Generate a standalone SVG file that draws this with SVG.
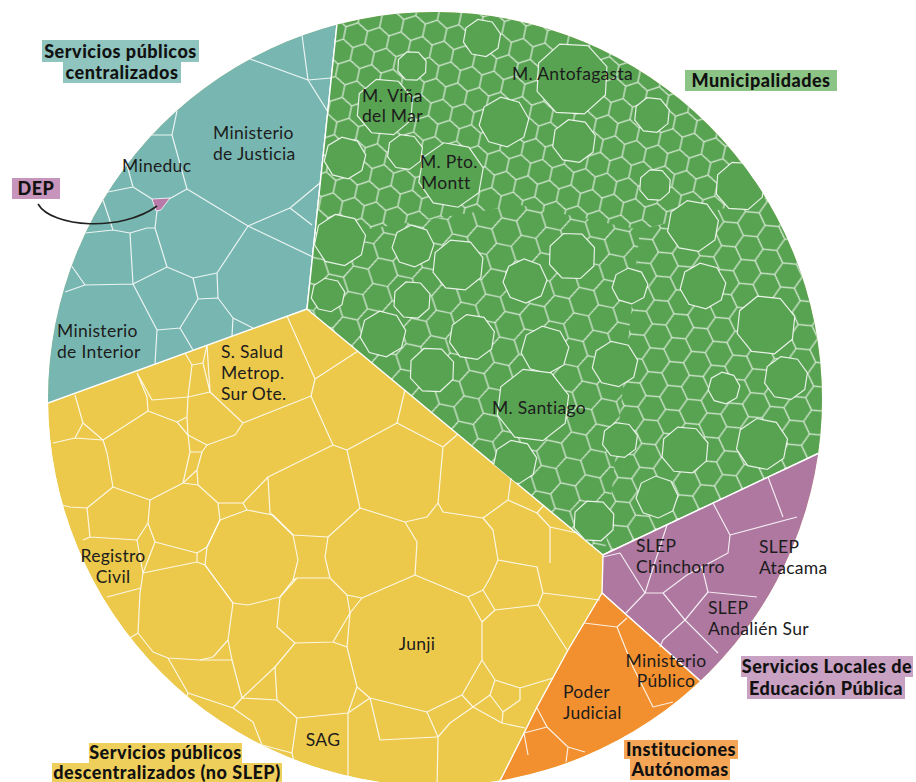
<svg xmlns="http://www.w3.org/2000/svg" xmlns:xlink="http://www.w3.org/1999/xlink" width="916" height="782" viewBox="0 0 916 782">
<style>
.cl{fill:none;stroke:#fff;stroke-width:1.2;stroke-opacity:0.85;stroke-linejoin:round}
.sec{stroke:#fff;stroke-width:1.4;stroke-linejoin:round}
.oct{fill:#58a352;stroke:#fff;stroke-width:1.2;stroke-opacity:0.85;vector-effect:non-scaling-stroke}
.hx{fill:none;stroke:#fff;stroke-opacity:0.8;stroke-width:1.2}
.t{font-family:Lato,"Open Sans","Liberation Sans",sans-serif;font-size:17.5px;letter-spacing:0.3px;fill:#1c1c1c}
.tm{text-anchor:middle}
.b{font-family:Lato,"Open Sans","Liberation Sans",sans-serif;font-size:18px;font-weight:900;letter-spacing:0.5px;fill:#111;text-anchor:middle}
</style>
<defs>
<clipPath id="circ"><circle cx="435" cy="399" r="387"/></clipPath>
<clipPath id="gclip"><polygon points="342,-20 337,24 307,309 603,555 815,455 950,392 950,-20"/></clipPath>
<pattern id="hexA" patternUnits="userSpaceOnUse" x="3" y="5" width="22" height="38.11" patternTransform="rotate(12)">
<path class="hx" d="M11,0 L22,6.35 L22,19.05 L11,25.4 L0,19.05 L0,6.35 Z M11,25.4 L11,38.11"/>
</pattern>
<pattern id="hexB" patternUnits="userSpaceOnUse" x="7" y="2" width="26" height="45.03" patternTransform="rotate(-18)">
<path class="hx" d="M13,0 L26,7.51 L26,22.52 L13,30.02 L0,22.52 L0,7.51 Z M13,30.02 L13,45.03"/>
</pattern>
<pattern id="hexC" patternUnits="userSpaceOnUse" x="0" y="9" width="24" height="41.57" patternTransform="rotate(35)">
<path class="hx" d="M12,0 L24,6.93 L24,20.78 L12,27.71 L0,20.78 L0,6.93 Z M12,27.71 L12,41.57"/>
</pattern>
<polygon id="o" class="oct" points="0.924,0.383 0.383,0.924 -0.383,0.924 -0.924,0.383 -0.924,-0.383 -0.383,-0.924 0.383,-0.924 0.924,-0.383"/>
</defs>
<rect width="916" height="782" fill="#fff"/>

<g id="treemap" clip-path="url(#circ)">
<circle cx="435" cy="399" r="387" fill="#ecc94b"/>
<polygon id="sector-centralizados" class="sec" fill="#78b7b1" points="342,-20 -20,-20 -20,428 48,403 307,309 337,24"/>
<polygon id="sector-municipalidades" class="sec" fill="#58a352" points="342,-20 337,24 307,309 603,555 815,455 950,392 950,-20"/>
<polygon id="sector-slep" class="sec" fill="#ae78a0" points="603,555 815,455 950,392 950,900 800,770 697,678 602,593"/>
<polygon id="sector-autonomas" class="sec" fill="#f28f2e" points="602,593 697,678 800,770 760,820 480,820 507,767 537,707 568,650"/>

<g id="green-cells" clip-path="url(#gclip)">
<polygon points="300,-20 950,-20 950,150 640,230 520,205 300,240" fill="url(#hexA)"/>
<polygon points="300,240 520,205 640,230 600,600 300,600" fill="url(#hexB)"/>
<polygon points="640,230 950,150 950,600 600,600" fill="url(#hexC)"/>
<use href="#o" transform="translate(385,107) rotate(5) scale(29)"/>
<use href="#o" transform="translate(451,175) rotate(10) scale(33)"/>
<use href="#o" transform="translate(572,79) rotate(3) scale(37)"/>
<use href="#o" transform="translate(504,122) rotate(15) scale(25)"/>
<use href="#o" transform="translate(574,141) rotate(8) scale(22)"/>
<use href="#o" transform="translate(340,240) rotate(12) scale(26)"/>
<use href="#o" transform="translate(413,246) rotate(18) scale(21)"/>
<use href="#o" transform="translate(458,265) rotate(6) scale(26)"/>
<use href="#o" transform="translate(525,281) rotate(20) scale(22)"/>
<use href="#o" transform="translate(412,300) rotate(4) scale(19)"/>
<use href="#o" transform="translate(383,334) rotate(14) scale(23)"/>
<use href="#o" transform="translate(472,337) rotate(9) scale(23)"/>
<use href="#o" transform="translate(432,370) rotate(2) scale(23)"/>
<use href="#o" transform="translate(545,350) rotate(16) scale(24)"/>
<use href="#o" transform="translate(533,405) rotate(7) scale(37)"/>
<use href="#o" transform="translate(515,462) rotate(12) scale(22)"/>
<use href="#o" transform="translate(594,521) rotate(3) scale(21)"/>
<use href="#o" transform="translate(657,497) rotate(19) scale(21)"/>
<use href="#o" transform="translate(693,226) rotate(10) scale(26)"/>
<use href="#o" transform="translate(740,186) rotate(4) scale(25)"/>
<use href="#o" transform="translate(703,286) rotate(15) scale(23)"/>
<use href="#o" transform="translate(766,325) rotate(6) scale(30)"/>
<use href="#o" transform="translate(615,364) rotate(13) scale(23)"/>
<use href="#o" transform="translate(786,378) rotate(9) scale(22)"/>
<use href="#o" transform="translate(572,256) rotate(2) scale(24)"/>
<use href="#o" transform="translate(630,286) rotate(17) scale(18)"/>
<use href="#o" transform="translate(685,450) rotate(5) scale(24)"/>
<use href="#o" transform="translate(762,444) rotate(11) scale(26)"/>
<use href="#o" transform="translate(405,152) rotate(8) scale(18)"/>
<use href="#o" transform="translate(345,158) rotate(14) scale(21)"/>
<use href="#o" transform="translate(412,66) rotate(3) scale(15)"/>
<use href="#o" transform="translate(482,38) rotate(10) scale(19)"/>
<use href="#o" transform="translate(652,115) rotate(6) scale(18)"/>
<use href="#o" transform="translate(328,295) rotate(12) scale(17)"/>
<use href="#o" transform="translate(655,185) rotate(4) scale(16)"/>
<use href="#o" transform="translate(620,440) rotate(8) scale(18)"/>
<use href="#o" transform="translate(724,388) rotate(15) scale(16)"/>
</g>

<g id="teal-cells" class="cl">
<path d="M302,35 L308,80 L328,112 M308,80 L331,78 M250,59 L308,80"/>
<path d="M177,111 L172,135 L187,189 L248,226 L290,208 L320,183 M290,208 L312,225 M248,226 L313,257"/>
<path d="M172,135 L152,135 M187,189 L169,199 M152,199 L133,187 L108,192 M133,187 L127,165"/>
<path d="M157,211 L155,228 L147,228 L130,233 L113,230 L85,233 M113,230 L103,200"/>
<path d="M155,228 L167,267 L193,278 L217,273 L248,226 M217,273 L218,298"/>
<path d="M193,278 L198,299 L180,328 L193,350 M198,299 L218,298 L233,318 L253,328 M233,318 L232,336 M157,330 L180,328"/>
<path d="M130,233 L133,284 L167,267 M85,285 L133,284 L157,330 L155,364 M85,285 L65,292 M85,285 L71,265"/>
</g>
<polygon id="dep-cell" points="152,199 170,198 161,210 156,211" fill="#b87aa8" stroke="#fff" stroke-width="0.8"/>

<g id="yellow-cells" class="cl">
<path d="M75,395 L83,423 L75,438 L53,443 M83,423 L103,440 M75,438 L103,440"/>
<path d="M103,440 L148,411 L177,422 L188,435 L190,452 L183,483 L150,500 L113,487 L107,453 Z"/>
<path d="M148,411 L147,397 L137,373 M137,373 L152,400 L188,397 L210,392 M188,397 L192,365 L185,353 M192,365 L203,363 L207,345 M203,363 L210,392"/>
<path d="M207,345 L210,392 L243,423 L311,396 M188,397 L187,417 L177,422 M187,417 L188,435 M188,435 L207,445 L235,435 L243,423"/>
<path d="M287,316 L315,379 L358,351 M315,379 L311,396 L333,445 L347,450 L397,423 L405,390"/>
<path d="M397,423 L443,447 L458,434 M443,447 L438,503 L443,512 L483,518 L493,530 L498,560 L537,567 L543,593 L600,600 M543,593 L538,605"/>
<path d="M347,450 L360,508 L328,537 M360,508 L405,522 L417,542 L415,575 M405,522 L427,517 L438,503"/>
<path d="M483,518 L508,500 L511,478 M508,500 L537,513 L544,505 M537,513 L550,527 L577,533 M550,527 L550,563"/>
<path d="M333,445 L268,477 L270,513 L293,535 L328,537 M268,477 L243,503 L218,503 L198,485 M218,503 L220,520 L207,547 M243,503 L247,510"/>
<path d="M207,547 L220,520 L247,510 L273,515 L293,535 L298,560 L293,580 L280,597 L248,605 L233,603 L205,565 Z"/>
<path d="M183,483 L198,485 M190,452 L202,452 L207,445 M202,452 L197,470 L183,483 M197,470 L198,485"/>
<path d="M113,487 L87,508 L70,507 L53,503 M87,508 L90,537 L83,540 M150,500 L148,523 L155,542 M148,523 L137,540 L90,537 M155,542 L197,553 L207,547 M155,542 L143,573"/>
<path d="M197,553 L197,562 M143,573 L197,562 L205,565 L233,603 L228,640 L213,657 L200,660 L168,658 L153,652 L138,633 L140,593 Z M137,540 L143,573 M138,633 L113,648 M141,588 L107,597"/>
<path d="M280,597 L297,578 L330,578 L347,595 L350,613 L333,642 L295,643 L277,627 L280,597 M293,580 L297,578 M328,537 L325,557 L330,578 M347,595 L362,598"/>
<path d="M362,598 L415,575 L468,597 L482,622 L482,660 L462,695 L427,712 L370,698 L357,687 L347,647 L350,613 Z"/>
<path d="M468,597 L483,590 L495,610 L482,622 M495,610 L538,605 L567,650 M483,590 L490,578 L498,560"/>
<path d="M295,643 L275,667 L277,700 L297,718 L348,713 L357,687 M333,642 L347,647 M348,713 L370,698 M348,713 L348,790 M297,718 L292,753 L300,790"/>
<path d="M427,712 L438,737 L437,790 M438,737 L450,723 L473,707 L490,695 L495,680 L482,660 M473,707 L462,695 M490,695 L503,712 L520,700 L520,688 L495,680 M520,688 L553,678 M503,712 L502,723 L525,728 M473,707 L502,723"/>
<path d="M228,640 L232,660 L242,698 L233,708 L253,722 M200,660 L232,660 M168,658 L188,693 L180,715 M275,667 L242,698 L277,700 M188,693 L233,708"/>
<path d="M292,753 L262,745 L253,722 M370,698 L380,740 L437,737"/>
</g>

<g id="purple-cells" class="cl">
<path d="M667,525 L645,593 L625,614 M645,593 L663,593 L687,575 L702,567 M663,593 L685,620"/>
<path d="M713,503 L730,535 L728,553 L702,567 L708,592 L757,597 M730,535 L797,517 M768,477 L783,517"/>
<path d="M708,592 L685,620 L663,640 L660,647 M685,620 L718,653 M603,557 L620,553 L645,593"/>
</g>
<g id="orange-cells" class="cl">
<path d="M584,623 L617,627 L627,618 M617,627 L633,667 L653,707 L673,702"/>
<path d="M537,708 L547,727 L568,747 L585,752 M547,727 L524,733 L528,755 M568,747 L566,762"/>
</g>
</g>

<g id="connectors">
<path d="M38,204 C52,228 122,232 157,206" fill="none" stroke="#222" stroke-width="1.6"/>
</g>

<g id="cell-labels">
<text class="t" x="213" y="139">Ministerio</text>
<text class="t" x="213" y="160">de Justicia</text>
<text class="t" x="122" y="172">Mineduc</text>
<text class="t" x="57" y="337">Ministerio</text>
<text class="t" x="57" y="358">de Interior</text>
<text class="t" x="221" y="358">S. Salud</text>
<text class="t" x="221" y="379">Metrop.</text>
<text class="t" x="221" y="400">Sur Ote.</text>
<text class="t" x="362" y="102">M. Viña</text>
<text class="t" x="362" y="122">del Mar</text>
<text class="t" x="420" y="168">M. Pto.</text>
<text class="t" x="421" y="189">Montt</text>
<text class="t" x="512" y="80">M. Antofagasta</text>
<text class="t" x="492" y="414">M. Santiago</text>
<text class="t" x="636" y="552">SLEP</text>
<text class="t" x="636" y="573">Chinchorro</text>
<text class="t" x="759" y="553">SLEP</text>
<text class="t" x="759" y="574">Atacama</text>
<text class="t" x="708" y="614">SLEP</text>
<text class="t" x="708" y="635">Andalién Sur</text>
<text class="t tm" x="666" y="667">Ministerio</text>
<text class="t tm" x="666" y="687">Público</text>
<text class="t" x="563" y="698">Poder</text>
<text class="t" x="563" y="719">Judicial</text>
<text class="t tm" x="113" y="562">Registro</text>
<text class="t tm" x="113" y="583">Civil</text>
<text class="t tm" x="417" y="650">Junji</text>
<text class="t tm" x="323" y="746">SAG</text>
</g>

<g id="label-centralizados">
<rect x="42" y="40" width="157" height="22" fill="#8fc4bf"/>
<rect x="63" y="62" width="118" height="21" fill="#8fc4bf"/>
<text class="b" x="120.5" y="57.5">Servicios públicos</text>
<text class="b" x="122" y="78.5">centralizados</text>
</g>
<g id="label-municipalidades">
<rect x="685" y="70" width="152" height="21" fill="#8cc486"/>
<text class="b" x="761" y="86.5">Municipalidades</text>
</g>
<g id="label-dep">
<rect x="12" y="178" width="48" height="21" fill="#c795bb"/>
<text class="b" x="36" y="195">DEP</text>
</g>
<g id="label-slep">
<rect x="741" y="656" width="172" height="21" fill="#c9a1c2"/>
<rect x="747" y="677" width="158" height="22" fill="#c9a1c2"/>
<text class="b" x="827" y="672.5">Servicios Locales de</text>
<text class="b" x="826" y="694.5">Educación Pública</text>
</g>
<g id="label-autonomas">
<rect x="624" y="740" width="114" height="19" fill="#f4a555"/>
<rect x="630" y="759" width="100" height="21" fill="#f4a555"/>
<text class="b" x="681" y="756">Instituciones</text>
<text class="b" x="680" y="776">Autónomas</text>
</g>
<g id="label-descentralizados">
<rect x="89" y="743" width="153" height="20" fill="#efcf5c"/>
<rect x="52" y="763" width="230" height="19" fill="#efcf5c"/>
<text class="b" x="165.5" y="759">Servicios públicos</text>
<text class="b" x="167" y="779">descentralizados (no SLEP)</text>
</g>
</svg>
